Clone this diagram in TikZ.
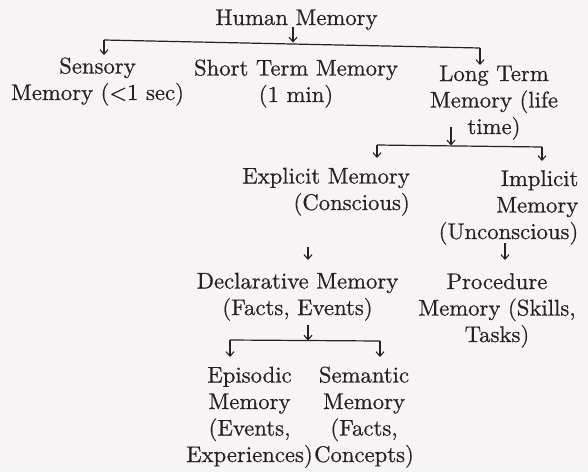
\documentclass[tikz,border=0pt]{standalone}
\usepackage{fontspec}
\setmainfont{lmroman10-regular.otf}[FakeBold=0.6]
\usetikzlibrary{arrows.meta}
\definecolor{ink}{HTML}{2A2020}
\definecolor{paper}{HTML}{F6F4F4}
\tikzset{
  lbl/.style={inner sep=0pt, align=center, text=ink, font=\fontsize{22.7}{26.5}\selectfont},
  lblr/.style={lbl, align=right},
  conn/.style={draw=ink, line width=1.2pt},
  arr/.style={conn, -{Straight Barb[length=4.5pt,width=8pt,line width=1.1pt]}},
}
\begin{document}
\begin{tikzpicture}[x=1pt,y=-1pt]
\fill[paper] (0,0) rectangle (588,472);
\useasboundingbox (0,0) rectangle (588,472);

% nodes (base anchor = baseline of the last line)
\node[lbl, anchor=base] (hm) at (296.5,25) {Human Memory};
\node[lbl, anchor=base] (sen) at (97.5,100) {Sensory\\Memory (<1 sec)};
\node[lbl, anchor=base] (stm) at (296,102) {Short Term Memory\\(1 min)};
\node[lbl, anchor=base] (ltm) at (494,134) {Long Term\\Memory (life\\time)};
\node[lblr, anchor=base east] (exp) at (410,210) {Explicit Memory\\(Conscious)};
\node[lblr, anchor=base east] (imp) at (578.5,239) {Implicit\\Memory\\(Unconscious)};
\node[lbl, anchor=base] (dec) at (297.5,315) {Declarative Memory\\(Facts, Events)};
\node[lbl, anchor=base] (pro) at (497,342) {Procedure\\Memory (Skills,\\Tasks)};
\node[lbl, anchor=base] (epi) at (249.5,462) {Episodic\\Memory\\(Events,\\Experiences)};
\node[lbl, anchor=base] (sem) at (364,462) {Semantic\\Memory\\(Facts,\\Concepts)};

% junction coordinates
\coordinate (h0) at (293,27);
\coordinate (h1) at (293,42.5);
\coordinate (b1l) at (104,40);
\coordinate (b1r) at (480,48);
\coordinate (t1l) at (104,55);
\coordinate (t1r) at (480,65);

\coordinate (l0) at (451,127);
\coordinate (l1) at (451,145.5);
\coordinate (b2l) at (377,145);
\coordinate (b2r) at (542,147);
\coordinate (t2l) at (377,158);
\coordinate (t2r) at (542,161);

\coordinate (e0) at (308,247);
\coordinate (e1) at (308,260);
\coordinate (i0) at (505,243);
\coordinate (i1) at (505,260);

\coordinate (d0) at (308,325);
\coordinate (d1) at (308,340.5);
\coordinate (b3l) at (230,340);
\coordinate (b3r) at (380,341);
\coordinate (t3l) at (230,357);
\coordinate (t3r) at (380,357);

% connectors
\draw[arr] (h0) -- (h1);
\draw[conn] (b1l) -- (b1r);
\draw[arr] (b1l) -- (t1l);
\draw[arr] (b1r) -- (t1r);

\draw[arr] (l0) -- (l1);
\draw[conn] (b2l) -- (b2r);
\draw[arr] (b2l) -- (t2l);
\draw[arr] (b2r) -- (t2r);

\draw[arr] (e0) -- (e1);
\draw[arr] (i0) -- (i1);

\draw[arr] (d0) -- (d1);
\draw[conn] (b3l) -- (b3r);
\draw[arr] (b3l) -- (t3l);
\draw[arr] (b3r) -- (t3r);
\end{tikzpicture}
\end{document}
